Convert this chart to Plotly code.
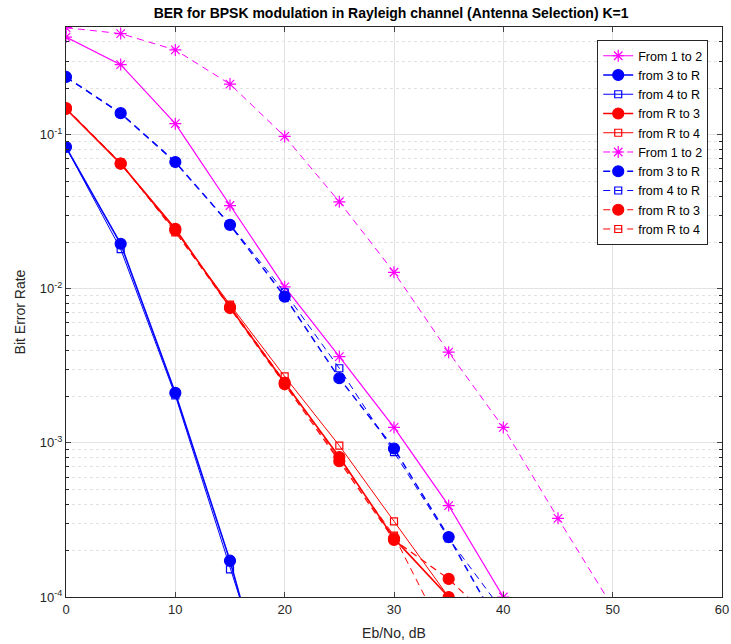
import plotly.graph_objects as go

# ---------------- data ----------------
snr_1to2 = [0, 5, 10, 15, 20, 25, 30, 35, 40]
ber_1to2 = [0.43, 0.285, 0.118, 0.0347, 0.0103, 0.00363, 0.00126, 0.000392, 0.0001]

snr_3toR = [0, 5, 10, 15, 20]
ber_3toR = [0.0832, 0.0196, 0.00211, 0.000172, 0.000009]

snr_4toR = [0, 5, 10, 15, 20]
ber_4toR = [0.0830, 0.0181, 0.00203, 0.000151, 0.000012]

snr_Rto3 = [0, 5, 10, 15, 20, 25, 30, 35]
ber_Rto3 = [0.147, 0.0649, 0.0245, 0.0076, 0.00246, 0.00081, 0.00024, 0.0001]

snr_Rto4 = [0, 5, 10, 15, 20, 25, 30, 35]
ber_Rto4 = [0.147, 0.065, 0.0238, 0.0079, 0.0027, 0.00096, 0.00031, 0.0001]

snr_1to2_d = [0, 5, 10, 15, 20, 25, 30, 35, 40, 45, 50]
ber_1to2_d = [0.495, 0.453, 0.355, 0.213, 0.0975, 0.0367, 0.0128, 0.00388, 0.00126, 0.000324, 0.000086]

snr_3toR_d = [0, 5, 10, 15, 20, 25, 30, 35, 40]
ber_3toR_d = [0.237, 0.138, 0.0665, 0.026, 0.0089, 0.00263, 0.00092, 0.000245, 0.000058]

snr_4toR_d = [0, 5, 10, 15, 20, 25, 30, 35, 40]
ber_4toR_d = [0.236, 0.137, 0.066, 0.0262, 0.0095, 0.00305, 0.00087, 0.00024, 0.00008]

snr_Rto3_d = [0, 5, 10, 15, 20, 25, 30, 35, 40]
ber_Rto3_d = [0.149, 0.065, 0.024, 0.0075, 0.0024, 0.00076, 0.000235, 0.000131, 0.00006]

snr_Rto4_d = [0, 5, 10, 15, 20, 25, 30, 35]
ber_Rto4_d = [0.148, 0.066, 0.0232, 0.0077, 0.0025, 0.00078, 0.00025, 0.00005]

ytick_vals = [1e-4, 1e-3, 1e-2, 1e-1]
ytick_text = ["10<sup>-4</sup>", "10<sup>-3</sup>", "10<sup>-2</sup>", "10<sup>-1</sup>"]
xtick_vals = [0, 10, 20, 30, 40, 50, 60]

MAG, BLUE, RED = "#FF00FF", "#0000FF", "#FF0000"
DASH = "7px,5px"

series = [
    ("From 1 to 2", snr_1to2, ber_1to2, MAG, "solid", "asterisk-open", 10, 1.2),
    ("from 3 to R", snr_3toR, ber_3toR, BLUE, "solid", "circle", 11, 1.6),
    ("from 4 to R", snr_4toR, ber_4toR, BLUE, "solid", "square-open", 7, 1.0),
    ("from R to 3", snr_Rto3, ber_Rto3, RED, "solid", "circle", 11, 1.6),
    ("from R to 4", snr_Rto4, ber_Rto4, RED, "solid", "square-open", 7, 1.0),
    ("From 1 to 2", snr_1to2_d, ber_1to2_d, MAG, DASH, "asterisk-open", 10, 1.0),
    ("from 3 to R", snr_3toR_d, ber_3toR_d, BLUE, DASH, "circle", 11, 1.5),
    ("from 4 to R", snr_4toR_d, ber_4toR_d, BLUE, DASH, "square-open", 7, 1.0),
    ("from R to 3", snr_Rto3_d, ber_Rto3_d, RED, DASH, "circle", 11, 1.2),
    ("from R to 4", snr_Rto4_d, ber_Rto4_d, RED, DASH, "square-open", 7, 1.0),
]

fig = go.Figure()
for name, xs, ys, col, dash, sym, msize, lw in series:
    fig.add_trace(go.Scatter(
        x=xs, y=ys, name=name, mode="lines+markers",
        line=dict(color=col, width=lw, dash=dash),
        marker=dict(symbol=sym, size=msize, color=col,
                    line=dict(color=col, width=1.2)),
        cliponaxis=True,
    ))

FONT = "Liberation Sans, Arial, sans-serif"
AXC = "#262626"

fig.update_layout(
    width=731, height=644,
    margin=dict(l=66, r=9, t=27, b=47, autoexpand=False),
    paper_bgcolor="white", plot_bgcolor="white",
    font=dict(family=FONT, size=13, color=AXC),
    title=dict(text="<b>BER for BPSK modulation in Rayleigh channel (Antenna Selection) K=1</b>",
               x=0.535, xanchor="center", y=0.979, yanchor="middle",
               font=dict(size=14, color="black", family=FONT)),
    showlegend=True,
    legend=dict(x=0.979, y=0.977, xanchor="right", yanchor="top",
                bgcolor="white", bordercolor=AXC, borderwidth=1,
                font=dict(size=12.5, color="black", family=FONT),
                tracegroupgap=0, itemwidth=30),
)

fig.update_xaxes(
    range=[0, 60], tickvals=xtick_vals, ticks="inside", ticklen=5,
    showline=True, linecolor=AXC, linewidth=1, mirror="ticks",
    showgrid=True, gridcolor="#e3e3e3", gridwidth=1, zeroline=False,
    automargin=False,
    title=dict(text="Eb/No, dB", standoff=12, font=dict(size=14)),
    tickfont=dict(size=13, color=AXC),
)
fig.update_yaxes(
    type="log", range=[-4, -0.30103], tickvals=ytick_vals, ticktext=ytick_text,
    ticks="inside", ticklen=5,
    showline=True, linecolor=AXC, linewidth=1, mirror="ticks",
    showgrid=True, gridcolor="#e3e3e3", gridwidth=1, zeroline=False,
    automargin=False,
    minor=dict(dtick="D1", ticks="inside", ticklen=3, tickcolor=AXC,
               showgrid=True, gridcolor="#e2e2e2", griddash="dot", gridwidth=1),
    title=dict(text="Bit Error Rate", standoff=10, font=dict(size=14)),
    tickfont=dict(size=13, color=AXC),
)

fig.write_html(
    "out.html",
    config={"displayModeBar": False},
    post_script="document.body.style.margin='0';document.body.style.overflow='hidden';",
)
